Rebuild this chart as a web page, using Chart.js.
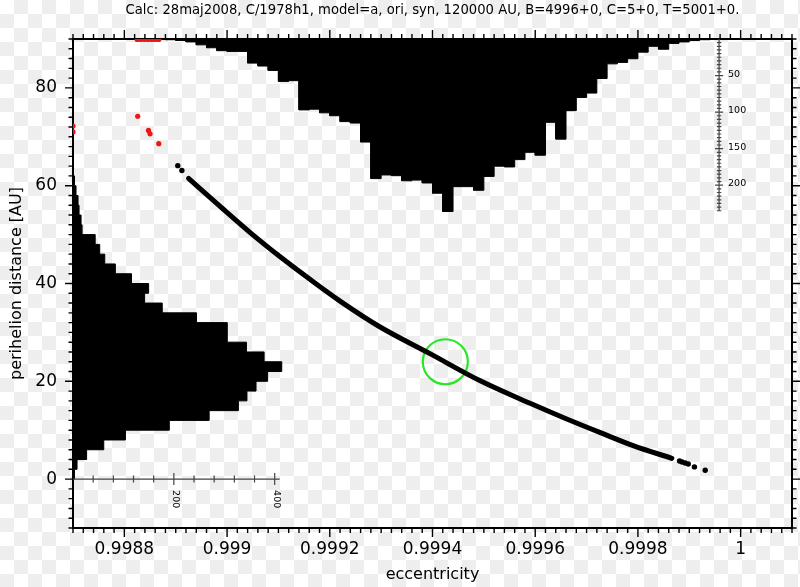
<!DOCTYPE html>
<html>
<head>
<meta charset="utf-8">
<title>C/1978 H1 clones</title>
<script src="https://cdn.jsdelivr.net/npm/chart.js@4/dist/chart.umd.min.js"></script>
<style>
  html, body { margin: 0; padding: 0; background: #fff; }
  canvas { display: block; }
</style>
</head>
<body>
<canvas id="orbitChart" width="800" height="587"></canvas>
<script>
// labelled ticks
var eTicks = [0.9988, 0.999, 0.9992, 0.9994, 0.9996, 0.9998, 1];
var qTicks = [0, 20, 40, 60, 80];
var qHistTicks = [200, 400];
var eHistTicks = [50, 100, 150, 200];

// histogram of perihelion distance, lower bin edges [AU] and counts
var qBins = [0, 2, 4, 6, 8, 10, 12, 14, 16, 18, 20, 22, 24, 26, 28, 30,
             32, 34, 36, 38, 40, 42, 44, 46, 48, 50, 52, 54, 56, 58, 60, 62];
var qCounts = [3, 8, 27, 61, 104, 191, 270, 328, 345, 363, 386, 414, 379, 344, 306, 306,
               245, 177, 142, 150, 116, 84, 63, 53, 44, 18, 16, 12, 10, 6, 3, 1];

// histogram of eccentricity, lower bin edges and counts
var eBins = [0.99888, 0.99890, 0.99892, 0.99894, 0.99896, 0.99898, 0.99900, 0.99902,
             0.99904, 0.99906, 0.99908, 0.99910, 0.99912, 0.99914, 0.99916, 0.99918,
             0.99920, 0.99922, 0.99924, 0.99926, 0.99928, 0.99930, 0.99932, 0.99934,
             0.99936, 0.99938, 0.99940, 0.99942, 0.99944, 0.99946, 0.99948, 0.99950,
             0.99952, 0.99954, 0.99956, 0.99958, 0.99960, 0.99962, 0.99964, 0.99966,
             0.99968, 0.99970, 0.99972, 0.99974, 0.99976, 0.99978, 0.99980, 0.99982,
             0.99984, 0.99986, 0.99988, 0.99990, 0.99992];
var eCounts = [1, 2, 4, 8, 12, 16, 17, 17, 33, 37, 43, 58, 57, 97, 96, 101,
               105, 113, 115, 141, 191, 186, 187, 194, 193, 197, 211, 236, 202, 202, 207, 188,
               174, 175, 165, 155, 159, 114, 137, 98, 80, 74, 54, 34, 32, 27, 18, 10,
               14, 6, 4, 2, 1];

// clones, dense part of the swarm
var curveE = [0.998925, 0.998987, 0.999045, 0.999104, 0.999162, 0.99922, 0.999298,
              0.999396, 0.999493, 0.99959, 0.999659, 0.999727, 0.999792, 0.999866];
var curveQ = [61.5, 55.7, 50.4, 45.4, 40.8, 36.4, 31.1, 25.6, 20.1, 15.5, 12.4, 9.5, 6.8, 4.25];

// isolated black clones
var dotE = [0.998904, 0.998912, 0.999881, 0.999886, 0.999892, 0.999898, 0.99991, 0.999931];
var dotQ = [64.1, 63.1, 3.7, 3.5, 3.3, 3.1, 2.5, 1.8];

// red clones
var redE = [0.9987, 0.9987, 0.998825, 0.998832, 0.998839, 0.998846, 0.998853, 0.99886, 0.998867,
            0.998826, 0.998847, 0.99885, 0.998867];
var redQ = [71, 72.2, 89.9, 89.9, 89.9, 89.9, 89.9, 89.9, 89.9,
            74.2, 71.3, 70.6, 68.6];

// nominal orbit
var markE = [0.999425];
var markQ = [24];

var title = 'Calc: 28maj2008, C/1978h1, model=a, ori, syn, 120000 AU, B=4996+0, C=5+0, T=5001+0.';
var qStep = 2, eStep = 0.00002;
var countAxisE = 0.999958;

function pairs(xs, ys) {
    return xs.map(function(v, i) { return {x: v, y: ys[i]}; });
}

// outline of the q histogram (bars grow to the right from the left frame)
var qShape = [{x: 0, y: qBins[0]}];
qBins.forEach(function(b, i) {
    qShape.push({x: qCounts[i], y: b}, {x: qCounts[i], y: b + qStep});
});
qShape.push({x: 0, y: qBins[qBins.length - 1] + qStep});

// outline of the e histogram (bars hang from the top frame)
var eShape = [{x: eBins[0], y: 0}];
eBins.forEach(function(b, i) {
    eShape.push({x: b, y: eCounts[i]}, {x: b + eStep, y: eCounts[i]});
});
eShape.push({x: eBins[eBins.length - 1] + eStep, y: 0});

var font = '"DejaVu Sans", sans-serif';
Chart.defaults.font.family = font;
Chart.defaults.color = '#000';

// transparent-looking backdrop like the source image viewer
var backdrop = {
    id: 'backdrop',
    beforeDraw: function(chart) {
        var ctx = chart.ctx, s = 14, i, j;
        ctx.save();
        ctx.fillStyle = '#fff';
        ctx.fillRect(0, 0, chart.width, chart.height);
        ctx.fillStyle = '#eeeeee';
        for (j = 0; j * s < chart.height; j++) {
            for (i = (j + 1) % 2; i * s < chart.width; i += 2) {
                ctx.fillRect(i * s, j * s, s, s);
            }
        }
        ctx.restore();
    }
};

// ticks on the frame, the two count axes and the heading
var decor = {
    id: 'decor',
    afterDraw: function(chart) {
        var ctx = chart.ctx, a = chart.chartArea;
        var sx = chart.scales.x, sy = chart.scales.y, hx = chart.scales.xh, hy = chart.scales.yh;
        var i, v, p, len;
        ctx.save();
        ctx.strokeStyle = '#000';
        ctx.lineWidth = 1.4;
        ctx.beginPath();
        for (i = 0; i <= 70; i++) {
            v = sx.min + i * 0.00002;
            p = sx.getPixelForValue(v);
            len = Math.abs(v / 0.0002 - Math.round(v / 0.0002)) < 1e-6 ? 9 : 5;
            ctx.moveTo(p, a.bottom); ctx.lineTo(p, a.bottom + len);
            ctx.moveTo(p, a.top); ctx.lineTo(p, a.top - len);
        }
        for (i = 0; i <= 50; i++) {
            v = sy.min + i * 2;
            p = sy.getPixelForValue(v);
            len = v % 20 === 0 ? 8 : 4.5;
            ctx.moveTo(a.left, p); ctx.lineTo(a.left - len, p);
            ctx.moveTo(a.right, p); ctx.lineTo(a.right + len, p);
        }
        ctx.stroke();

        // count axis of the q histogram, along q = 0
        var y0 = sy.getPixelForValue(0);
        ctx.strokeStyle = '#444';
        ctx.lineWidth = 1.2;
        ctx.beginPath();
        ctx.moveTo(a.left, y0); ctx.lineTo(hx.getPixelForValue(410), y0);
        for (v = 40; v <= 400; v += 40) {
            p = hx.getPixelForValue(v);
            len = v % 200 === 0 ? 6 : 3.5;
            ctx.moveTo(p, y0 - len); ctx.lineTo(p, y0 + len);
        }
        // count axis of the e histogram
        var x0 = sx.getPixelForValue(countAxisE);
        ctx.moveTo(x0, hy.getPixelForValue(0)); ctx.lineTo(x0, hy.getPixelForValue(235));
        for (v = 5; v <= 235; v += 5) {
            p = hy.getPixelForValue(v);
            len = v % 50 === 0 ? 4 : 2.2;
            ctx.moveTo(x0 - len, p); ctx.lineTo(x0 + len, p);
        }
        ctx.stroke();

        ctx.fillStyle = '#000';
        ctx.font = '9.5px ' + font;
        ctx.textBaseline = 'middle';
        ctx.textAlign = 'left';
        qHistTicks.forEach(function(c) {
            ctx.save();
            ctx.translate(hx.getPixelForValue(c) + 1.5, y0 + 11);
            ctx.rotate(Math.PI / 2);
            ctx.fillText(String(c), 0, 0);
            ctx.restore();
        });
        eHistTicks.forEach(function(c) {
            ctx.fillText(String(c), x0 + 9, hy.getPixelForValue(c) - 1.5);
        });

        ctx.font = '13.2px ' + font;
        ctx.textAlign = 'center';
        ctx.fillText(title, (a.left + a.right) / 2, 11);
        ctx.restore();
    }
};

new Chart(document.getElementById('orbitChart'), {
    type: 'scatter',
    data: {
        datasets: [{
            label: 'red clones',
            data: pairs(redE, redQ),
            pointRadius: 2.6,
            pointBackgroundColor: '#f01414',
            pointBorderWidth: 0,
            clip: 0,
            order: 0
        }, {
            label: 'isolated clones',
            data: pairs(dotE, dotQ),
            pointRadius: 2.7,
            pointBackgroundColor: '#000',
            pointBorderWidth: 0,
            order: 1
        }, {
            type: 'line',
            label: 'clones',
            data: pairs(curveE, curveQ),
            borderColor: '#000',
            borderWidth: 5,
            borderCapStyle: 'round',
            cubicInterpolationMode: 'monotone',
            pointRadius: 0,
            fill: false,
            order: 2
        }, {
            label: 'nominal',
            data: pairs(markE, markQ),
            pointRadius: 22.5,
            pointBorderWidth: 2.2,
            pointBorderColor: '#2be52b',
            pointBackgroundColor: 'rgba(0,0,0,0)',
            order: 3
        }, {
            type: 'line',
            label: 'e histogram',
            data: eShape,
            yAxisID: 'yh',
            borderColor: '#000',
            borderWidth: 1,
            backgroundColor: '#000',
            pointRadius: 0,
            tension: 0,
            fill: 'origin',
            order: 5
        }, {
            type: 'line',
            label: 'q histogram',
            data: qShape,
            xAxisID: 'xh',
            borderColor: '#000',
            borderWidth: 1,
            backgroundColor: '#000',
            pointRadius: 0,
            tension: 0,
            fill: 'shape',
            order: 5
        }]
    },
    options: {
        responsive: false,
        animation: false,
        devicePixelRatio: 1,
        events: [],
        layout: { padding: 0, autoPadding: false },
        plugins: {
            legend: { display: false },
            tooltip: { enabled: false },
            title: { display: false }
        },
        scales: {
            x: {
                type: 'linear',
                position: 'bottom',
                min: 0.9987,
                max: 1.0001,
                afterBuildTicks: function(s) { s.ticks = eTicks.map(function(v) { return {value: v}; }); },
                afterFit: function(s) { s.height = 59; },
                grid: { display: false, drawTicks: false },
                border: { display: true, color: '#000', width: 2 },
                ticks: {
                    padding: 11,
                    maxRotation: 0,
                    autoSkip: false,
                    font: { size: 17 },
                    callback: function(v) { return String(+v.toFixed(4)); }
                },
                title: { display: true, text: 'eccentricity', font: { size: 16 }, padding: { top: 0, bottom: 3 } }
            },
            x2: {
                type: 'linear',
                position: 'top',
                min: 0.9987,
                max: 1.0001,
                afterFit: function(s) { s.height = 39; },
                grid: { display: false, drawTicks: false },
                border: { display: true, color: '#000', width: 2 },
                ticks: { display: false }
            },
            y: {
                type: 'linear',
                position: 'left',
                min: -10,
                max: 90,
                afterBuildTicks: function(s) { s.ticks = qTicks.map(function(v) { return {value: v}; }); },
                afterFit: function(s) { s.width = 73; },
                grid: { display: false, drawTicks: false },
                border: { display: true, color: '#000', width: 2 },
                ticks: { padding: 16, font: { size: 17 } },
                title: { display: true, text: 'perihelion distance [AU]', font: { size: 16 }, padding: { top: 7, bottom: 0 } }
            },
            y2: {
                type: 'linear',
                position: 'right',
                min: -10,
                max: 90,
                afterFit: function(s) { s.width = 8; },
                grid: { display: false, drawTicks: false },
                border: { display: true, color: '#000', width: 2 },
                ticks: { display: false }
            },
            xh: { type: 'linear', display: false, min: 0, max: 1426 },
            yh: { type: 'linear', display: false, reverse: true, min: 0, max: 669 }
        }
    },
    plugins: [backdrop, decor]
});
</script>
</body>
</html>
